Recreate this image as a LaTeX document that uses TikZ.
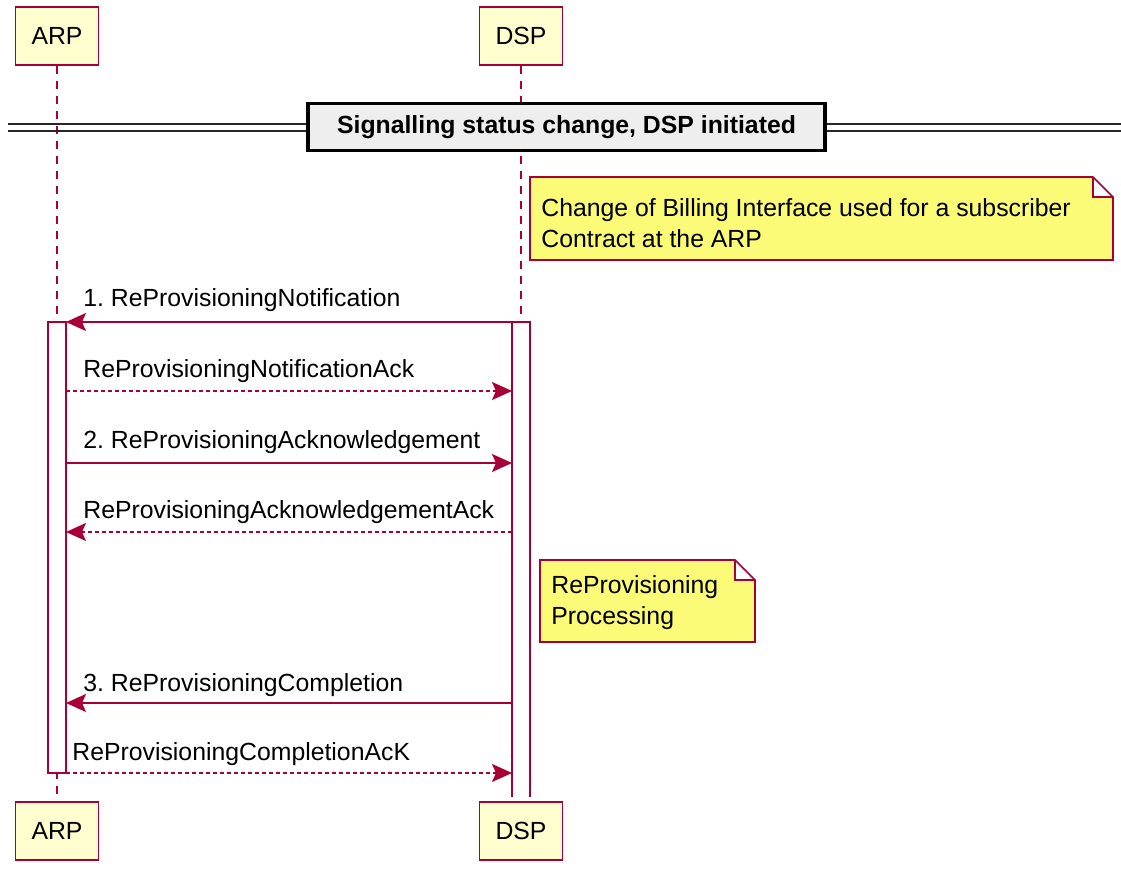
\documentclass[tikz,border=0pt]{standalone}
\usepackage{fontspec}
\setmainfont{Liberation Sans}
\usepackage{xcolor}
\usetikzlibrary{arrows.meta}
\definecolor{umlred}{HTML}{A80036}
\definecolor{umlbox}{HTML}{FEFECE}
\definecolor{umlnote}{HTML}{FBFB77}
\definecolor{umlsep}{HTML}{EEEEEE}
\frenchspacing
\tikzset{
  part/.style={draw=umlred, fill=umlbox, line width=0.8pt, minimum width=41.5pt,
    minimum height=29pt, inner sep=0pt},
  life/.style={draw=umlred, line width=0.8pt, dash pattern=on 4pt off 3.5pt},
  act/.style={draw=umlred, fill=white, line width=0.8pt},
  msg/.style={draw=umlred, line width=0.8pt,
    -{Stealth[length=10pt,width=9pt,inset=2pt]}},
  reply/.style={msg, dash pattern=on 2pt off 1.5pt},
  lbl/.style={anchor=base west, inner sep=0pt},
  notebox/.style={draw=umlred, fill=umlnote, line width=0.8pt},
}

\begin{document}
\begin{tikzpicture}[x=0.5pt, y=-0.5pt,
    every node/.style={font=\fontsize{12.4}{15.5}\selectfont}]
  \useasboundingbox (0,0) rectangle (1121,870);

  \node (arp) [part] at (57,36) {ARP};
  \node (dsp) [part] at (521,36) {DSP};
  \node (arpb) [part] at (57,831) {ARP};
  \node (dspb) [part] at (521,831) {DSP};
  \draw[life] (arp) -- (arpb);
  \draw[life] (dsp) -- (dspb);

  \draw[black!85, line width=0.8pt] (8,124) -- (1121,124) (8,131) -- (1121,131);
  \node (sep) [draw=black, line width=1.8pt, fill=umlsep, minimum width=258.5pt,
    minimum height=23.5pt, font=\fontsize{12.4}{15.5}\selectfont\bfseries]
    at (566.5,127) {Signalling status change, DSP initiated};

  \draw[notebox] (530,177) -- (1093,177) -- (1113,197) -- (1113,260)
    -- (530,260) -- cycle (1093,177) -- (1093,197) -- (1113,197);
  \node (nb) [anchor=west, align=left, inner sep=0pt] at (541,223)
    {Change of Billing Interface used for a subscriber\\Contract at the ARP};

  \draw[act] (48,322) rectangle (66,773);
  \draw[act] (512,797) -- (512,322) -- (530,322) -- (530,797);

  \path (66,322) coordinate (a1) (512,322) coordinate (d1)
        (66,391) coordinate (a2) (512,391) coordinate (d2)
        (66,463) coordinate (a3) (512,463) coordinate (d3)
        (66,532) coordinate (a4) (512,532) coordinate (d4)
        (66,703) coordinate (a5) (512,703) coordinate (d5)
        (66,773) coordinate (a6) (512,773) coordinate (d6);

  \draw[msg] (d1) -- (a1);
  \node (m1) [lbl] at (83,307) {1. ReProvisioningNotification};
  \draw[reply] (a2) -- (d2);
  \node (m2) [lbl] at (83,378) {ReProvisioningNotificationAck};
  \draw[msg] (a3) -- (d3);
  \node (m3) [lbl] at (83,449) {2. ReProvisioningAcknowledgement};
  \draw[reply] (d4) -- (a4);
  \node (m4) [lbl] at (83,519) {ReProvisioningAcknowledgementAck};

  \draw[notebox] (540,560) -- (735,560) -- (755,580) -- (755,642)
    -- (540,642) -- cycle (735,560) -- (735,580) -- (755,580);
  \node (np) [anchor=west, align=left, inner sep=0pt] at (551,603)
    {ReProvisioning\\Processing};

  \draw[msg] (d5) -- (a5);
  \node (m5) [lbl] at (83,692) {3. ReProvisioningCompletion};
  \draw[reply] (a6) -- (d6);
  \node (m6) [lbl] at (72,761) {ReProvisioningCompletionAcK};
\end{tikzpicture}
\end{document}
